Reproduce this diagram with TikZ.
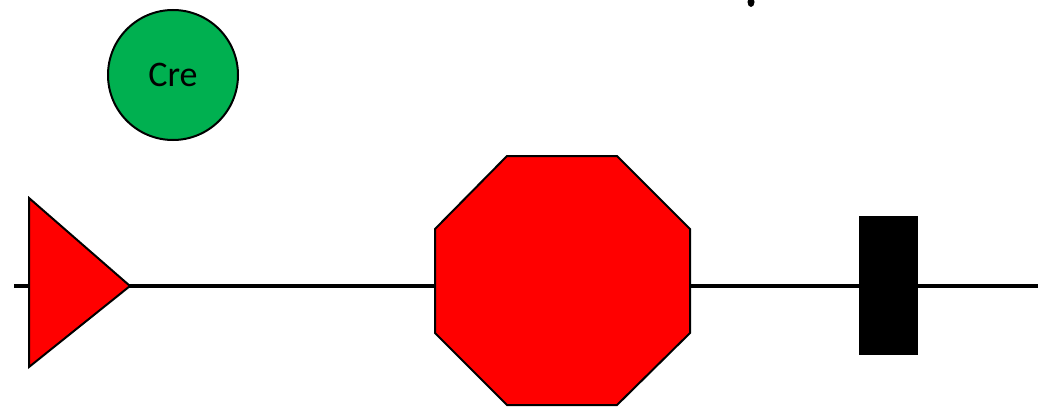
\documentclass[tikz,border=0pt]{standalone}
\usepackage{fontspec}
\setmainfont{Carlito}
\definecolor{crered}{RGB}{255,0,0}
\definecolor{cregreen}{RGB}{0,176,80}
\begin{document}
\begin{tikzpicture}[x=1pt,y=-1pt,
  partshape/.style={draw=black,line width=2pt,line join=miter},
  dnaline/.style={draw=black,line width=4pt},
  protein/.style={circle,draw=black,line width=2pt,fill=cregreen,minimum size=130pt,inner sep=0pt,font=\fontsize{36}{40}\selectfont}]
\useasboundingbox (0,0) rectangle (1038,409);
% backbone
\coordinate (L) at (14,286);
\coordinate (R) at (1038,286);
\draw[dnaline] (L) -- (R);
% promoter
\coordinate (pt) at (29,198);
\coordinate (pb) at (29,367);
\coordinate (pp) at (130,286);
\filldraw[partshape,fill=crered] (pt) -- (pp) -- (pb) -- cycle;
% terminator octagon
\filldraw[partshape,fill=crered] (507,156) -- (617,156) -- (690,229) -- (690,333) -- (617,405) -- (507,405) -- (435,333) -- (435,229) -- cycle;
% black block
\fill[black] (859,216) rectangle (918,355);
% Cre protein
\node[protein] (cre) at (173,75) {Cre};
% cut-off glyph fragment at top
\fill[black] (751,2) ellipse (3.5 and 5);
\end{tikzpicture}
\end{document}
